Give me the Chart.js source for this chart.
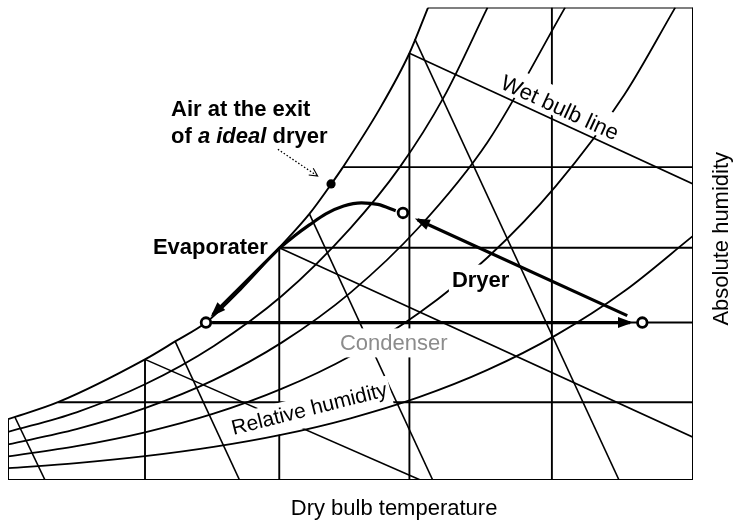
<!DOCTYPE html>
<html>
<head>
<meta charset="utf-8">
<script src="https://cdn.jsdelivr.net/npm/chart.js@4.4.1/dist/chart.umd.min.js"></script>
<style>
html,body{margin:0;padding:0;background:#fff;}
#wrap{width:735px;height:524px;position:relative;}
</style>
</head>
<body>
<div id="wrap"><canvas id="psy"></canvas></div>
<script>
// ==================== DATA (°C / g per kg) ====================
const tMin = 0, tMax = 50, wMin = 0, wMax = 30;

// relative humidity curves
const satT  = [0, 3.65, 10, 12.2, 14.45, 17, 19.8, 22.0, 23.6, 24.45, 27.15, 29.3, 30.66];
const satW  = [3.86, 4.94, 7.66, 8.8, 10.0, 12.1, 14.75, 16.9, 18.8, 19.87, 23.6, 27.1, 30.0];
const rh80T = [0, 5, 10, 15, 20, 25, 28.6, 31.8, 35.0];
const rh80W = [3.05, 4.3, 6.08, 8.5, 11.7, 16.0, 19.87, 24.3, 30.0];
const rh60T = [0, 5, 10, 15, 20, 25, 30, 35, 40.66];
const rh60W = [2.26, 3.23, 4.56, 6.34, 8.74, 11.9, 16.05, 21.45, 30.0];
const rh40T = [0, 5, 10, 15, 20, 25, 30, 35, 40, 45, 48.7];
const rh40W = [1.5, 2.15, 3.03, 4.21, 5.8, 7.88, 10.6, 14.13, 18.68, 24.48, 30.0];
const rh20T = [0, 5, 10, 15, 20, 25, 30, 35, 40, 45, 50];
const rh20W = [0.75, 1.07, 1.51, 2.1, 2.88, 3.92, 5.26, 6.99, 9.2, 12.0, 15.5];

// grid: dry bulb verticals (up to saturation) and humidity horizontals (from saturation)
const tempGrid     = [10, 19.8, 29.3, 39.7];
const tempGridTop  = [7.66, 14.75, 27.1, 30];
const humGrid      = [4.94, 10, 14.75, 19.87];
const humGridStart = [3.65, 14.45, 19.8, 24.45];

// wet bulb lines
const wetT0 = [29.3, 19.8, 10];
const wetW0 = [27.1, 14.75, 7.66];
const wetT1 = [50, 50, 30.1];
const wetW1 = [18.8, 2.72, 0];

// steep lines
const volT0 = [0.5, 12.2, 22.0, 29.7];
const volW0 = [4.0, 8.8, 16.9, 28.0];
const volT1 = [2.7, 16.9, 31.0, 44.6];
const volW1 = [0, 0, 0, 0];

// heat pump dryer cycle
const stateT = [14.45, 46.3, 28.83];
const stateW = [10, 10, 16.96];
const exitT = [23.58];
const exitW = [18.8];
const condT = [14.9, 45.4];
const condW = [10, 10];
const dryT  = [45.2, 29.9];
const dryW  = [10.44, 16.53];
const evapT = [19.85, 20.9, 22.0, 23.2, 24.5, 25.8, 27.0, 28.3];
const evapW = [14.75, 15.5, 16.2, 16.9, 17.4, 17.6, 17.5, 17.1];
const evapArrowT = [19.85, 14.95];
const evapArrowW = [14.75, 10.5];
const noteT = [19.7, 22.6];
const noteW = [21.0, 19.3];

// ==================== STYLE ====================
const INK = '#000';
const FAMILY = '"Liberation Sans", Arial, sans-serif';

const labels = [
    {text:'Air at the exit', t:11.9, w:23.1, font:'bold 22px'},
    {parts:[['of ','bold 22px'],['a ideal','italic bold 22px'],[' dryer','bold 22px']], t:11.9, w:21.4},
    {text:'Evaporater', t:10.58, w:14.37, font:'bold 22px'},
    {text:'Dryer', t:32.4, w:12.28, font:'bold 22px', knock:[3,7,4]},
    {text:'Condenser', t:24.23, w:8.23, font:'22px', color:'#8c8c8c', knock:[4,6,7]},
    {text:'Wet bulb line', t:40.07, w:23.23, font:'22px', align:'center', angle:24.7, knock:[2,9,3]},
    {text:'Relative humidity', t:22.12, w:4.11, font:'21px', align:'center', angle:-14.2, knock:[3,5,7]},
    {text:'Absolute humidity', t:52.12, w:15.32, font:'22px', align:'center', baseline:'middle', angle:-90},
    {text:'Dry bulb temperature', t:28.18, w:-2.22, font:'22px', align:'center'}
];

// ==================== HELPERS ====================
function pts(xs, ys){ return xs.map((x,i)=>({x:x, y:ys[i]})); }

const drawSeq = [];
function addLine(data, width, extra){
    drawSeq.push(Object.assign({
        data:data, showLine:true, borderColor:INK, borderWidth:width,
        pointRadius:0, fill:false, tension:0, borderCapStyle:'butt'
    }, extra || {}));
}
const curve = {cubicInterpolationMode:'monotone'};

// frame
addLine(pts([tMin,tMin],[wMin,satW[0]]), 2);
addLine(pts([tMin,tMax],[wMin,wMin]), 2);
addLine(pts([tMax,tMax],[wMin,wMax]), 2);
addLine(pts([satT[satT.length-1],tMax],[wMax,wMax]), 2);
// grid
tempGrid.forEach((t,i)=>addLine(pts([t,t],[wMin,tempGridTop[i]]), 1.9));
humGrid.forEach((w,i)=>addLine(pts([humGridStart[i],tMax],[w,w]), 1.9));
// curves and sloping lines
addLine(pts(satT,satW), 1.9, curve);
addLine(pts(rh80T,rh80W), 1.8, curve);
addLine(pts(rh60T,rh60W), 1.8, curve);
addLine(pts(rh40T,rh40W), 1.8, curve);
for(let i=1;i<wetT0.length;i++) addLine(pts([wetT0[i],wetT1[i]],[wetW0[i],wetW1[i]]), 1.6);
volT0.forEach((t,i)=>addLine(pts([t,volT1[i]],[volW0[i],volW1[i]]), 1.6, i===volT0.length-1 ? {knockAfter:true} : {}));
// lines that the labels sit on (not knocked out)
addLine(pts([wetT0[0],wetT1[0]],[wetW0[0],wetW1[0]]), 1.6);
addLine(pts(rh20T,rh20W), 1.8, curve);
// process
addLine(pts(condT,condW), 3.2, {arrowHead:'filled'});
addLine(pts(dryT,dryW), 3.2, {arrowHead:'filled'});
addLine(pts(evapT,evapW), 3.2, curve);
addLine(pts(evapArrowT,evapArrowW), 3.2, {arrowHead:'filled'});
addLine(pts(noteT,noteW), 1.3, {borderDash:[1.5,2], arrowHead:'open'});
drawSeq.push({data:pts(stateT,stateW), showLine:false, pointStyle:'circle', pointRadius:4.8,
    borderWidth:2.8, borderColor:INK, backgroundColor:'#fff'});
drawSeq.push({data:pts(exitT,exitW), showLine:false, pointStyle:'circle', pointRadius:4.6,
    borderWidth:0, backgroundColor:INK});

drawSeq.forEach((ds,i)=>{ ds.order = 1000 - i; });

function labelParts(lb){ return lb.parts || [[lb.text, lb.font]]; }

function placeLabel(ctx, chart, lb){
    const x = chart.scales.x.getPixelForValue(lb.t);
    const y = chart.scales.y.getPixelForValue(lb.w);
    ctx.translate(x, y);
    ctx.rotate((lb.angle || 0) * Math.PI / 180);
    ctx.textBaseline = lb.baseline || 'alphabetic';
    ctx.textAlign = 'left';
    let total = 0, asc = 0, desc = 0;
    const parts = labelParts(lb).map(p=>{
        ctx.font = p[1] + ' ' + FAMILY;
        const m = ctx.measureText(p[0]);
        asc = Math.max(asc, m.actualBoundingBoxAscent);
        desc = Math.max(desc, m.actualBoundingBoxDescent);
        const o = {text:p[0], font:ctx.font, x:total};
        total += m.width;
        return o;
    });
    const x0 = lb.align === 'center' ? -total/2 : 0;
    return {parts, x0, total, asc, desc};
}

// ==================== PLUGIN ====================
const inkPlugin = {
    id:'ink',
    afterDatasetDraw(chart, args){
        if(!chart.data.datasets[args.index].knockAfter) return;
        const ctx = chart.ctx;
        labels.forEach(lb=>{
            if(!lb.knock) return;
            ctx.save();
            const m = placeLabel(ctx, chart, lb);
            const k = lb.knock;
            ctx.fillStyle = '#fff';
            ctx.fillRect(m.x0 - k[0], -m.asc - k[1], m.total + 2*k[0], m.asc + m.desc + k[1] + k[2]);
            ctx.restore();
        });
    },
    afterDatasetsDraw(chart){
        const ctx = chart.ctx;
        // arrow heads
        chart.data.datasets.forEach((ds,i)=>{
            if(!ds.arrowHead) return;
            const el = chart.getDatasetMeta(i).data;
            const a = el[el.length-2], b = el[el.length-1];
            ctx.save();
            ctx.translate(b.x, b.y);
            ctx.rotate(Math.atan2(b.y-a.y, b.x-a.x));
            ctx.fillStyle = INK; ctx.strokeStyle = INK;
            if(ds.arrowHead === 'filled'){
                ctx.beginPath();
                ctx.moveTo(3,0); ctx.lineTo(-12,-5.5); ctx.lineTo(-12,5.5); ctx.closePath();
                ctx.fill();
            }else{
                ctx.lineWidth = 1.1;
                ctx.beginPath();
                ctx.moveTo(-8,-4); ctx.lineTo(0,0); ctx.lineTo(-8,4);
                ctx.stroke();
            }
            ctx.restore();
        });
        // texts
        labels.forEach(lb=>{
            ctx.save();
            const m = placeLabel(ctx, chart, lb);
            ctx.fillStyle = lb.color || INK;
            m.parts.forEach(p=>{ ctx.font = p.font; ctx.fillText(p.text, m.x0 + p.x, 0); });
            ctx.restore();
        });
    }
};

// ==================== CHART ====================
new Chart(document.getElementById('psy'), {
    type:'scatter',
    data:{ datasets: drawSeq },
    options:{
        responsive:true,
        maintainAspectRatio:false,
        animation:false,
        events:[],
        layout:{ padding:{left:8, right:42, top:6, bottom:44} },
        scales:{
            x:{ type:'linear', min:tMin, max:tMax, display:false },
            y:{ type:'linear', min:wMin, max:wMax, display:false }
        },
        plugins:{ legend:{display:false}, tooltip:{enabled:false} }
    },
    plugins:[inkPlugin]
});
</script>
</body>
</html>
